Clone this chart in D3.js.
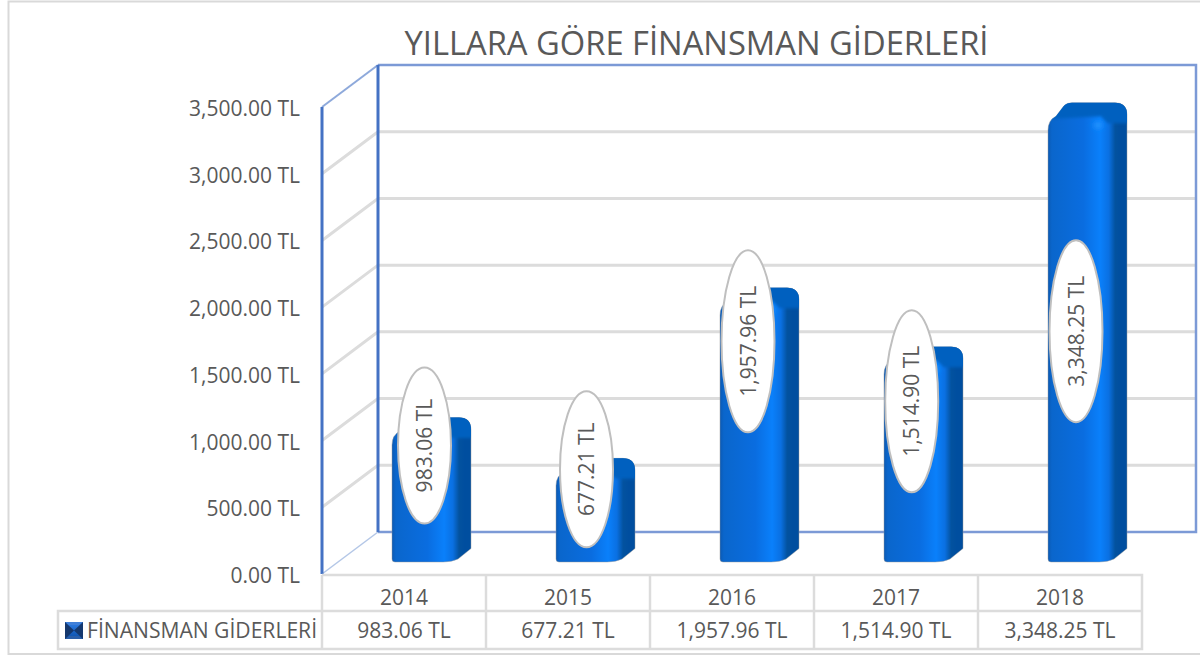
<!DOCTYPE html>
<html><head><meta charset="utf-8">
<script src="https://cdn.jsdelivr.net/npm/d3@7"></script>
<style>html,body{margin:0;padding:0;background:#fff}svg{display:block}text{font-family:"Open Sans",sans-serif;fill:#595959}</style>
</head><body><svg id="c" width="1200" height="656"></svg>
<script>
const title = "YILLARA GÖRE FİNANSMAN GİDERLERİ";
const seriesName = "FİNANSMAN GİDERLERİ";
const years = ["2014","2015","2016","2017","2018"];
const values = [983.06,677.21,1957.96,1514.90,3348.25];
const valueLabels = ["983.06 TL","677.21 TL","1,957.96 TL","1,514.90 TL","3,348.25 TL"];
const ticks = [0,500,1000,1500,2000,2500,3000,3500];

const svg = d3.select("#c");
const fmt = d3.format(",.2f");
const FL = 322, BL = 378, BR = 1196, DY = 42;
const yFront = d3.scaleLinear().domain([0,3500]).range([574,107]);
const x = d3.scaleBand().domain(years).range([322,1142]);
const barH = d3.scaleLinear().domain([0,3500]).range([0,466]);
const barBase = 562, barW = 63, sx = 16, sy = 13.5, barOff = 70, FS = 21;
// hand placement of each callout relative to its category start / bar top (px)
const labelPlace = {2014:[102.5,14.5],2015:[100.5,-2.5],2016:[98,40],2017:[97.7,41],2018:[98,215]};

const defs = svg.append("defs");
const grad = (id,stops,attrs={}) => { const g = defs.append("linearGradient").attr("id",id);
  Object.entries(attrs).forEach(([k,v])=>g.attr(k,v));
  stops.forEach(d=>g.append("stop").attr("offset",d[0]).attr("stop-color",d[1])); };
grad("body",[[0,"#0b5ab4"],[.05,"#0a66cc"],[.45,"#0a6de0"],[.66,"#0a80fb"],[.77,"#0a70e2"],[.85,"#03529f"],[.92,"#004e9f"],[1,"#004e9f"]]);
grad("keyc",[[0,"#2f7fe8"],[1,"#0b4fa8"]],{x1:0,x2:0,y1:0,y2:1});
defs.append("filter").attr("id","soft").attr("x","-20%").attr("y","-20%").attr("width","140%").attr("height","140%")
  .append("feGaussianBlur").attr("stdDeviation",1.8);
const hl = defs.append("radialGradient").attr("id","hl");
hl.append("stop").attr("offset",0).attr("stop-color","#2a9bff").attr("stop-opacity",.9);
hl.append("stop").attr("offset",1).attr("stop-color","#0a80fb").attr("stop-opacity",0);

// outer border
svg.append("path").attr("d","M1200,1.5H8.5V654H1200").attr("fill","none").attr("stroke","#d9d9d9").attr("stroke-width",2);

// title
svg.append("text").attr("x",696.5).attr("y",54.5).attr("text-anchor","middle").attr("font-size",32.7).text(title);

// gridlines
const backY = v => yFront(v)-DY;
svg.append("g").selectAll("path").data(ticks.filter(t=>t>0&&t<3500)).join("path")
 .attr("d",t=>`M${FL},${yFront(t)}L${BL},${backY(t)}H${BR}`)
 .attr("fill","none").attr("stroke","#dcdcdc").attr("stroke-width",3);

// walls
svg.append("path").attr("d",`M${FL},${yFront(3500)}L${BL},${backY(3500)}`).attr("stroke","#8ea9db").attr("stroke-width",2).attr("fill","none");
svg.append("path").attr("d",`M${FL},${yFront(0)}L${BL},${backY(0)}`).attr("stroke","#b4c7e7").attr("stroke-width",1.5).attr("fill","none");
svg.append("path").attr("d",`M${BL},${backY(3500)}H${BR}V${backY(0)}H${BL}`).attr("fill","none").attr("stroke","#7c9ad6").attr("stroke-width",2.5);
svg.append("path").attr("d",`M${BL},${backY(0)}V${backY(3500)}`).attr("stroke","#4472c4").attr("stroke-width",3);
svg.append("path").attr("d",`M${FL},${yFront(0)}V${yFront(3500)}`).attr("stroke","#4472c4").attr("stroke-width",3);

// axis labels
svg.append("g").selectAll("text").data(ticks).join("text")
 .attr("x",300).attr("y",t=>yFront(t)+9).attr("text-anchor","end").attr("font-size",FS).text(t=>fmt(t)+" TL");

// bars
const bars = svg.append("g").selectAll("g").data(years).join("g");
bars.each(function(yr,i){
  const g = d3.select(this), X = x(yr)+barOff, top = barBase-barH(values[i]);
  const R = X+barW+sx, b = top-sy;
  const outline = `M${X},${barBase-3}V${top+14}Q${X},${top+4} ${X+8},${top}L${X+16},${b+3}Q${X+19},${b} ${X+24},${b}H${R-12}Q${R},${b} ${R},${b+12}V${barBase-sy}L${X+barW+3},${barBase-3}Q${X+barW-3},${barBase} ${X+barW-12},${barBase}H${X+3}Q${X},${barBase} ${X},${barBase-3}Z`;
  const cid = "clip"+yr;
  defs.append("clipPath").attr("id",cid).append("path").attr("d",outline);
  g.append("path").attr("d",outline).attr("fill","url(#body)").attr("stroke","#9a9a9a").attr("stroke-opacity",.45).attr("stroke-width",1);
  const inner = g.append("g").attr("clip-path",`url(#${cid})`).append("g").attr("filter","url(#soft)");
  // top face, fading over the rounded shoulder
  inner.append("path").attr("fill","#0560bf")
   .attr("d",`M${X-4},${top+3}L${X+16},${b-8}H${R+6}V${top+7}H${X+barW-3}L${X+barW-10},${top}Z`);
  // glint at the front-right shoulder
  inner.append("ellipse").attr("cx",X+barW-13).attr("cy",top+9).attr("rx",9).attr("ry",8).attr("fill","url(#hl)");
});

// data label callouts
const labels = svg.append("g").selectAll("g").data(years).join("g")
 .attr("transform",(yr,i)=>`translate(${x(yr)+labelPlace[yr][0]},${barBase-barH(values[i])+labelPlace[yr][1]})`);
labels.append("ellipse").attr("rx",26.5).attr("ry",(yr,i)=>values[i]>=1000?91:78)
 .attr("fill","#fff").attr("stroke","#bfbfbf").attr("stroke-width",2);
labels.append("text").attr("transform","rotate(-90)").attr("text-anchor","middle").attr("dy","0.36em")
 .attr("font-size",FS).text((yr,i)=>valueLabels[i]);

// data table
const rowY = [575,611,649], legL = 58;
const tbl = svg.append("g").attr("stroke","#dcdcdc").attr("stroke-width",2.5).attr("fill","none");
tbl.append("path").attr("d",`M${FL},${rowY[0]}H1142V${rowY[2]}H${legL}V${rowY[1]}H1142`);
tbl.selectAll("line").data(years.map(y=>x(y))).join("line").attr("x1",d=>d).attr("x2",d=>d).attr("y1",rowY[0]).attr("y2",rowY[2]);
svg.append("g").selectAll("text").data(years).join("text").attr("x",y=>x(y)+x.bandwidth()/2).attr("y",605).attr("text-anchor","middle").attr("font-size",FS).text(y=>y);
svg.append("g").selectAll("text").data(years).join("text").attr("x",y=>x(y)+x.bandwidth()/2).attr("y",638).attr("text-anchor","middle").attr("font-size",FS).text((y,i)=>valueLabels[i]);
// legend key
svg.append("rect").attr("x",65).attr("y",622).attr("width",18).attr("height",17).attr("fill","url(#keyc)");
svg.append("path").attr("d","M65,622H83L79,625H69Z").attr("fill","#3f7fd8");
svg.append("path").attr("d","M65,639H83L79,636H69Z").attr("fill","#2a5ea8");
svg.append("path").attr("d","M65,622L74,630.5L65,639Z").attr("fill","#15376c");
svg.append("path").attr("d","M83,622L74,630.5L83,639Z").attr("fill","#15396f");
svg.append("text").attr("x",87).attr("y",638).attr("font-size",21.1).text(seriesName);
</script></body></html>
